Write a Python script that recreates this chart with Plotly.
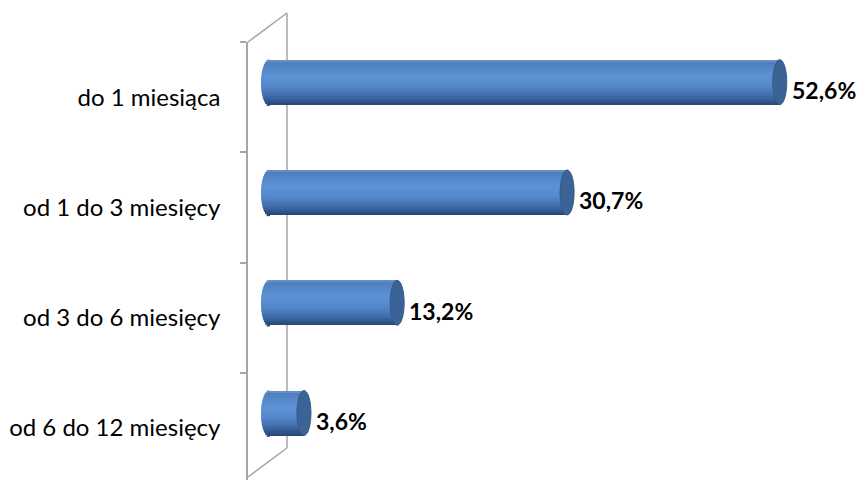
import plotly.graph_objects as go

# ---- data ----
categories = ["do 1 miesiąca", "od 1 do 3 miesięcy", "od 3 do 6 miesięcy", "od 6 do 12 miesięcy"]
shares = [52.6, 30.7, 13.2, 3.6]
value_labels = ["52,6%", "30,7%", "13,2%", "3,6%"]

# ---- geometry / style ----
W, H = 862, 480
ML, MR, MT, MB = 248, 2, 42, 0
X0_PX, PX_PER_UNIT = 269.0, 9.71          # pixel of value 0, pixels per percent
BAND_PX = 110.3                             # height of one category band
BAR_PX = 45.0                               # cylinder diameter
BAR_SHIFT_PX = -15.0                        # cylinder lifted inside its band
LEFT_CAP_PX, RIGHT_CAP_PX = 8.0, 7.0        # half-widths of the end ellipses
WALL = "#a6a6a6"
FONT = "Lato"

plot_w = W - ML - MR
plot_h = H - MT - MB
x_min = (ML - X0_PX) / PX_PER_UNIT
x_max = (ML + plot_w - X0_PX) / PX_PER_UNIT
y_units = plot_h / BAND_PX
y_range = [-0.5 + y_units, -0.5]            # reversed: first category on top

bar_w = BAR_PX / BAND_PX
bar_center = BAR_SHIFT_PX / BAND_PX
bar_top = bar_center - bar_w / 2
left_cap = LEFT_CAP_PX / PX_PER_UNIT
right_cap = RIGHT_CAP_PX / PX_PER_UNIT

# vertical shading of the cylinder (top -> bottom)
stops = [
    (0.00, (120, 150, 195)),
    (0.06, (78, 128, 192)),
    (0.38, (94, 146, 212)),
    (0.60, (84, 135, 202)),
    (0.82, (62, 106, 168)),
    (0.94, (46, 81, 132)),
    (1.00, (38, 68, 112)),
]


def shade(t):
    for (t0, c0), (t1, c1) in zip(stops, stops[1:]):
        if t0 <= t <= t1:
            f = (t - t0) / (t1 - t0) if t1 > t0 else 0
            c = [round(a + (b - a) * f) for a, b in zip(c0, c1)]
            return "rgb({},{},{})".format(*c)
    return "rgb({},{},{})".format(*stops[-1][1])


N = 22
strip = bar_w / N
fig = go.Figure()
shapes = []

for k in range(N):
    t = (k + 0.5) / N
    color = shade(t)
    off = bar_top + k * strip
    # each layer runs down to the bottom of the cylinder, so the next
    # layer covers it without leaving seams
    fig.add_trace(go.Bar(
        y=categories, x=shares, orientation="h",
        width=bar_w - k * strip, offset=off,
        marker=dict(color=color, line=dict(width=0)),
        hoverinfo="skip", showlegend=False,
    ))
    # rounded left end of every cylinder
    ext = left_cap * (1 - (2 * t - 1) ** 2) ** 0.5
    for i in range(len(categories)):
        shapes.append(dict(
            type="rect", xref="x", yref="y",
            x0=-ext, x1=0.1, y0=i + off, y1=i + off + strip * 1.6,
            fillcolor=color, line=dict(width=0), layer="above",
        ))

# end faces of the cylinders
for i, v in enumerate(shares):
    shapes.append(dict(
        type="circle", xref="x", yref="y",
        x0=v - right_cap, x1=v + right_cap,
        y0=i + bar_top, y1=i + bar_top + bar_w,
        fillcolor="#3c6395", line=dict(color="#35598a", width=1), layer="above",
    ))

# back wall of the 3D plot area
def px_x(p):
    return (p - ML) / plot_w


def px_y(p):
    return 1 - (p - MT) / plot_h


wall_pts = [(248, 42), (287, 13), (287, 448), (248, 477)]
for (ax, ay), (bx, by) in zip(wall_pts, wall_pts[1:]):
    shapes.append(dict(
        type="line", xref="paper", yref="paper",
        x0=px_x(ax), y0=px_y(ay), x1=px_x(bx), y1=px_y(by),
        line=dict(color=WALL, width=1.5), layer="below",
    ))

annotations = []
for i, (v, txt) in enumerate(zip(shares, value_labels)):
    annotations.append(dict(
        x=v + right_cap, y=i, xref="x", yref="y", text="<b>%s</b>" % txt,
        showarrow=False, xanchor="left", yanchor="middle", xshift=3, yshift=7,
        font=dict(family=FONT, size=23, color="#000000"),
    ))

fig.update_layout(
    width=W, height=H,
    margin=dict(l=ML, r=MR, t=MT, b=MB, pad=0),
    paper_bgcolor="white", plot_bgcolor="rgba(0,0,0,0)",
    barmode="overlay", bargap=0,
    shapes=shapes, annotations=annotations,
    font=dict(family=FONT, size=24, color="#000000"),
    xaxis=dict(range=[x_min, x_max], visible=False, showgrid=False, zeroline=False),
    yaxis=dict(
        type="category", categoryorder="array", categoryarray=categories,
        range=y_range, showline=True, linecolor=WALL, linewidth=1.5,
        ticks="outside", ticklen=6, tickcolor=WALL, tickwidth=1.5,
        tickson="boundaries", showgrid=False, zeroline=False,
        ticklabelstandoff=21,
        tickfont=dict(family=FONT, size=24, color="#000000"),
    ),
)

fig.write_html("out.html")
